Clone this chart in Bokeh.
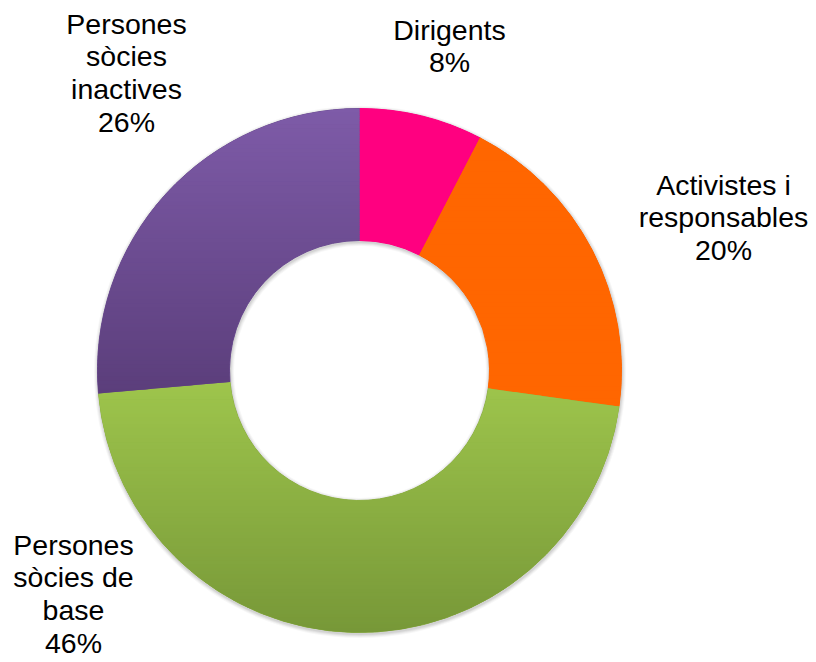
import math
import numpy as np
from bokeh.plotting import figure
from bokeh.models import Range1d
from bokeh.core.properties import value
from bokeh.embed import file_html
from bokeh.resources import INLINE

# ---- data ----
categories = ["Dirigents", "Activistes i responsables",
              "Persones sòcies de base", "Persones sòcies inactives"]
values = [7.6, 19.6, 46.4, 26.4]          # percent shares (labels show rounded)
label_lines = [["Dirigents"],
               ["Activistes i", "responsables"],
               ["Persones", "sòcies de", "base"],
               ["Persones", "sòcies", "inactives"]]

# ---- styles / layout ----
top_colors = ["#FF0080", "#FF6600", "#9EC54C", "#7E5BA8"]
bottom_colors = ["#FF0080", "#FF6600", "#779838", "#5B3E7B"]
mid_colors = ["#FF0080", "#FF6600", "#8BAF42", "#6C4D92"]
label_x = [90, 364, -286, -233]
label_y = [341, 186, -174, 347]
line_step = 32.8
R_OUT, R_IN = 262, 130

p = figure(width=816, height=662, output_backend="svg", toolbar_location=None,
           x_range=Range1d(-359, 457), y_range=Range1d(-292, 370),
           min_border=0)
p.axis.visible = False
p.grid.visible = False
p.outline_line_color = None
p.background_fill_color = "white"

# soft shadow
for k, a in [(4, 0.03), (3, 0.04), (2, 0.05), (1, 0.06)]:
    p.annulus(x=0.5, y=-1.5, inner_radius=R_IN - k, outer_radius=R_OUT + k,
              fill_color="black", fill_alpha=a, line_color=None)

total = sum(values)
cum = np.concatenate([[0], np.cumsum(values)]) / total
# angles in math convention, slices clockwise from top
starts = [math.pi / 2 - 2 * math.pi * cum[i + 1] for i in range(len(values))]
ends = [math.pi / 2 - 2 * math.pi * cum[i] for i in range(len(values))]

# base flat wedges (cover seams)
p.annular_wedge(x=0, y=0, inner_radius=R_IN, outer_radius=R_OUT,
                start_angle=starts, end_angle=ends, direction="anticlock",
                fill_color=mid_colors, line_color=mid_colors, line_width=1)


def sector_poly(a0, a1, r0, r1):
    n = max(8, int(abs(a1 - a0) * 180 / math.pi * 2))
    t = np.linspace(a0, a1, n)
    xs = list(r1 * np.cos(t)) + list(r0 * np.cos(t[::-1]))
    ys = list(r1 * np.sin(t)) + list(r0 * np.sin(t[::-1]))
    return list(zip(xs, ys))


def clip(pts, inside, inter):
    out = []
    n = len(pts)
    for i in range(n):
        cur, prev = pts[i], pts[i - 1]
        if inside(cur):
            if not inside(prev):
                out.append(inter(prev, cur))
            out.append(cur)
        elif inside(prev):
            out.append(inter(prev, cur))
    return out


def ix(yc):
    def f(a, b):
        t = (yc - a[1]) / (b[1] - a[1])
        return (a[0] + t * (b[0] - a[0]), yc)
    return f


def hex2rgb(h):
    h = h.lstrip("#")
    return [int(h[i:i + 2], 16) for i in (0, 2, 4)]


band_xs, band_ys, band_col = [], [], []
NB = 70
for i in range(len(values)):
    poly = sector_poly(starts[i], ends[i], R_IN, R_OUT)
    ys_all = [q[1] for q in poly]
    ymin, ymax = min(ys_all), max(ys_all)
    c0, c1 = hex2rgb(top_colors[i]), hex2rgb(bottom_colors[i])
    edges = np.linspace(ymax, ymin, NB + 1)
    for b in range(NB):
        hi, lo = edges[b] + 0.6, edges[b + 1]
        pts = clip(poly, lambda q, lo=lo: q[1] >= lo, ix(lo))
        if pts:
            pts = clip(pts, lambda q, hi=hi: q[1] <= hi, ix(hi))
        if len(pts) < 3:
            continue
        f = (b + 0.5) / NB
        col = "#%02x%02x%02x" % tuple(int(round(c0[k] + (c1[k] - c0[k]) * f)) for k in range(3))
        band_xs.append([q[0] for q in pts])
        band_ys.append([q[1] for q in pts])
        band_col.append(col)

p.patches(xs=band_xs, ys=band_ys, fill_color=band_col, line_color=None)

# labels
tx, ty, tt = [], [], []
for i, lines in enumerate(label_lines):
    all_lines = lines + [f"{round(values[i])}%"]
    for k, s in enumerate(all_lines):
        tx.append(label_x[i])
        ty.append(label_y[i] - k * line_step)
        tt.append(s)
p.text(x=tx, y=ty, text=tt, text_align="center", text_baseline="alphabetic",
       text_font=value("Liberation Sans"), text_font_size=value("28.5px"),
       text_color="black")

open("out.html", "w").write(file_html(p, INLINE))
